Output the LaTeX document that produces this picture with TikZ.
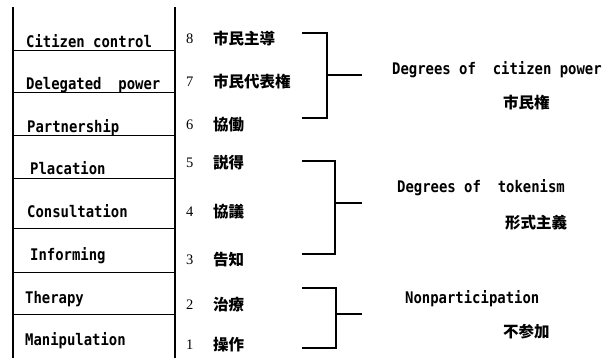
\documentclass[tikz,border=0pt]{standalone}
\usepackage{fontspec}
\setmainfont{Liberation Serif}
\newfontfamily\monof[FakeStretch=0.87]{DejaVu Sans Mono}
\newfontfamily\jpf{Noto Sans CJK JP}
\begin{document}
\begin{tikzpicture}[x=1pt,y=-1pt,
  lab/.style={anchor=base west,inner sep=0pt,font=\monof\bfseries\fontsize{16}{17}\selectfont},
  num/.style={anchor=base west,inner sep=0pt,font=\fontsize{14.5}{15}\selectfont},
  jp/.style={anchor=base west,inner sep=0pt,font=\jpf\bfseries\fontsize{15.5}{16}\selectfont},
  rung/.style={line width=1pt},
  rail/.style={line width=1.3pt},
  brk/.style={line width=1.2pt}]
\useasboundingbox (0,0) rectangle (605,364);
% rails
\coordinate (lt) at (13,7); \coordinate (lb) at (13,358);
\coordinate (rt) at (175,7); \coordinate (rb) at (175,358);
\draw[rail] (lt) -- (lb);
\draw[rail] (rt) -- (rb);
% rungs
\foreach \y/\n in {50.5/1,92.7/2,135/3,178/4,228/5,272.7/6,314.5/7}{
  \coordinate (rl\n) at (13,\y); \coordinate (rr\n) at (175,\y);
  \draw[rung] (rl\n) -- (rr\n);
}
% left labels
\node[lab] (l8) at (26,47.8) {Citizen control};
\node[lab] (l7) at (26,89.8) {Delegated\ \ power};
\node[lab] (l6) at (27,132.8) {Partnership};
\node[lab] (l5) at (30,174.8) {Placation};
\node[lab] (l4) at (27,217.8) {Consultation};
\node[lab] (l3) at (30,260.8) {Informing};
\node[lab] (l2) at (25,303.8) {Therapy};
\node[lab] (l1) at (25,345.8) {Manipulation};
% numbers
\node[num] (n8) at (186,43.8) {8};
\node[num] (n7) at (186,86.5) {7};
\node[num] (n6) at (186,129.5) {6};
\node[num] (n5) at (186,167.5) {5};
\node[num] (n4) at (186,216.5) {4};
\node[num] (n3) at (186,264.5) {3};
\node[num] (n2) at (186,309.5) {2};
\node[num] (n1) at (186,349.5) {1};
% japanese
\node[jp] (j8) at (213,44.9) {市民主導};
\node[jp] (j7) at (213,87.9) {市民代表権};
\node[jp] (j6) at (213,130.9) {協働};
\node[jp] (j5) at (213,168.9) {説得};
\node[jp] (j4) at (213,217.9) {協議};
\node[jp] (j3) at (213,265.9) {告知};
\node[jp] (j2) at (213,310.9) {治療};
\node[jp] (j1) at (213,350.9) {操作};
% group titles
\node[lab] (g3) at (392,74.8) {Degrees of\ \ citizen power};
\node[jp] (g3j) at (503,108.9) {市民権};
\node[lab] (g2) at (397,192.8) {Degrees of\ \ tokenism};
\node[jp] (g2j) at (505,228.9) {形式主義};
\node[lab] (g1) at (405,303.8) {Nonparticipation};
\node[jp] (g1j) at (503,337.9) {不参加};
% brackets
\coordinate (b3t) at (302,33); \coordinate (b3b) at (302,118);
\coordinate (b3m) at (327,75); \coordinate (b3e) at (362,75);
\draw[brk] (b3t) -| (b3m) |- (b3b);
\draw[brk] (b3m) -- (b3e);
\coordinate (b2t) at (302,161); \coordinate (b2b) at (302,254);
\coordinate (b2m) at (335,203); \coordinate (b2e) at (362,203);
\draw[brk] (b2t) -| (b2m) |- (b2b);
\draw[brk] (b2m) -- (b2e);
\coordinate (b1t) at (302,288); \coordinate (b1b) at (302,348);
\coordinate (b1m) at (336,314); \coordinate (b1e) at (362,314);
\draw[brk] (b1t) -| (b1m) |- (b1b);
\draw[brk] (b1m) -- (b1e);
\end{tikzpicture}
\end{document}
